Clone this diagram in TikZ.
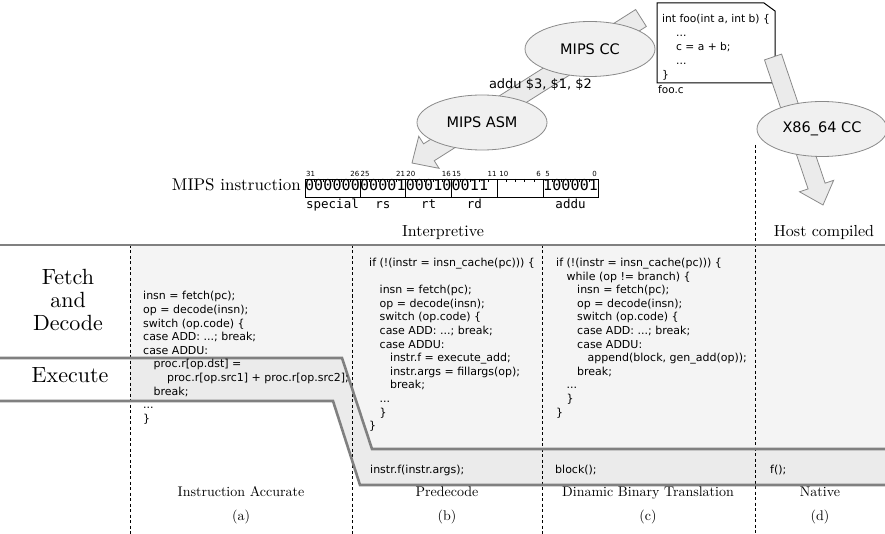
\documentclass[tikz,border=0pt]{standalone}
\usepackage{fontspec}
\setmainfont{lmroman10-regular.otf}
\newfontfamily\codefont{DejaVu Sans}
\newfontfamily\bitfont{DejaVu Sans Mono}
\usetikzlibrary{calc,shapes.geometric}

\definecolor{bandgray}{HTML}{808080}
\definecolor{areafill}{HTML}{F4F4F4}
\definecolor{execfill}{HTML}{EBEBEB}
\definecolor{shapefill}{HTML}{F0F0F0}
\definecolor{shapeline}{HTML}{8A8A8A}

\newlength\codeindent
\setlength\codeindent{10.5pt}
\newcommand\ind[1]{\hspace*{#1\codeindent}}

% fat block arrow: #1 start, #2 tip, #3 shaft half width, #4 head half width
\newcommand\blockarrow[4]{%
  \coordinate (ba-b) at ($(#2)!20pt!(#1)$);
  \filldraw[fatarrow]
    ($(#1)!#3!90:(#2)$) -- ($(ba-b)!#3!90:(#2)$) -- ($(ba-b)!#4!90:(#2)$) --
    (#2) --
    ($(ba-b)!#4!-90:(#2)$) -- ($(ba-b)!#3!-90:(#2)$) -- ($(#1)!#3!-90:(#2)$) -- cycle;
}

\tikzset{
  code/.style={font=\codefont\fontsize{11}{13.6}\selectfont, align=left, anchor=north west, inner sep=0pt},
  codeline/.style={font=\codefont\fontsize{11}{13.6}\selectfont, anchor=mid west, inner sep=0pt},
  rowlabel/.style={font=\fontsize{22}{23.3}\selectfont, align=center, inner sep=0pt},
  grouplabel/.style={font=\fontsize{16}{18}\selectfont, anchor=mid, inner sep=0pt},
  caption/.style={font=\fontsize{14}{16}\selectfont, anchor=mid, inner sep=0pt},
  separator/.style={draw=black, line width=0.6pt, dash pattern=on 3pt off 2.5pt},
  bandline/.style={draw=bandgray, line width=2.6pt},
  tool/.style={ellipse, draw=shapeline, fill=shapefill, line width=0.8pt,
    minimum width=130pt, minimum height=55pt, inner sep=0pt,
    font=\codefont\fontsize{14.5}{17}\selectfont},
  fatarrow/.style={fill=execfill, draw=shapeline, line width=0.8pt},
  bitdigit/.style={font=\bitfont\fontsize{15}{17}\selectfont, anchor=mid, inner sep=0pt},
  bitnum/.style={font=\codefont\fontsize{7}{8}\selectfont, inner sep=0pt},
  fieldname/.style={font=\bitfont\fontsize{12.5}{15}\selectfont, anchor=mid, inner sep=0pt},
  bitframe/.style={draw=black, line width=0.8pt},
  srcfile/.style={draw=black, fill=white, line width=1pt},
}

\begin{document}
\begin{tikzpicture}[x=1pt,y=-1pt]
\useasboundingbox (0,0) rectangle (885,534);

% ---- shaded areas: fetch/decode and execute
\fill[areafill] (130,245) -- (890,245) -- (890,449) -- (372,449) -- (342,358) -- (130,358) -- cycle;
\fill[execfill] (130,358) -- (342,358) -- (372,449) -- (890,449) -- (890,485) -- (360,485) -- (333,401) -- (130,401) -- cycle;

% ---- column separators
\draw[separator] (130,245) -- (130,534);
\draw[separator] (352,245) -- (352,534);
\draw[separator] (542,245) -- (542,534);
\draw[separator] (755,145) -- (755,534);

% ---- band borders
\draw[bandline] (-5,245) -- (890,245);
\draw[bandline] (-5,358) -- (342,358) -- (372,449) -- (890,449);
\draw[bandline] (-5,401) -- (333,401) -- (360,485) -- (890,485);

% ---- row and group labels
\node[rowlabel] (fetchlbl) at (68,300) {Fetch\\and\\Decode};
\node[rowlabel, anchor=mid] (execlbl) at (70,380) {Execute};
\node[grouplabel] (interp) at (443,234) {Interpretive};
\node[grouplabel] (hostc) at (824,234) {Host compiled};

% ---- code: instruction accurate
\node[code] (codea) at (143,291.3) {%
insn = fetch(pc);\\
op = decode(insn);\\
switch (op.code) \{\\
case ADD: ...; break;\\
case ADDU:\\
\ind{1}proc.r[op.dst] =\\
\hspace*{24pt}proc.r[op.src1] + proc.r[op.src2];\\
\ind{1}break;\\
...\\
\}};

% ---- code: predecode
\node[code] (codeb) at (369,257.9) {%
if (!(instr = insn\_cache(pc))) \{\\
\mbox{}\\
\ind{1}insn = fetch(pc);\\
\ind{1}op = decode(insn);\\
\ind{1}switch (op.code) \{\\
\ind{1}case ADD: ...; break;\\
\ind{1}case ADDU:\\
\ind{2}instr.f = execute\_add;\\
\ind{2}instr.args = fillargs(op);\\
\ind{2}break;\\
\ind{1}...\\
\ind{1}\}\\
\}};

% ---- code: dynamic binary translation
\node[code] (codec) at (556,257.9) {%
if (!(instr = insn\_cache(pc))) \{\\
\ind{1}while (op != branch) \{\\
\ind{2}insn = fetch(pc);\\
\ind{2}op = decode(insn);\\
\ind{2}switch (op.code) \{\\
\ind{2}case ADD: ...; break;\\
\ind{2}case ADDU:\\
\ind{3}append(block, gen\_add(op));\\
\ind{2}break;\\
\ind{1}...\\
\ind{1}\}\\
\}};

% ---- execute row
\node[codeline] (execb) at (370,471) {instr.f(instr.args);};
\node[codeline] (execc) at (555,471) {block();};
\node[codeline] (execd) at (770,471) {f();};

% ---- captions
\node[caption] (capa) at (241,494) {Instruction Accurate};
\node[caption] (capb) at (447,494) {Predecode};
\node[caption] (capc) at (648,494) {Dinamic Binary Translation};
\node[caption] (capd) at (820,494) {Native};
\node[caption] (suba) at (241,518) {(a)};
\node[caption] (subb) at (447,518) {(b)};
\node[caption] (subc) at (648,518) {(c)};
\node[caption] (subd) at (820,518) {(d)};

% ---- MIPS instruction word
\def\bitw{9.156}
\node[font=\fontsize{17}{19}\selectfont, anchor=mid east, inner sep=0pt] (mipslbl) at (301,188) {MIPS instruction};
\draw[bitframe] (305,179) rectangle (598,197);
\foreach \k in {6,11,16,21,26}
  \draw[bitframe] (305+\k*\bitw,179) -- (305+\k*\bitw,197);
\foreach \k in {1,...,31}
  \draw[black, line width=0.6pt] (305+\k*\bitw,179) -- ++(0,3.5);
\foreach \d [count=\k from 0] in {0,0,0,0,0,0,0,0,0,0,1,0,0,0,1,0,0,0,1,1}
  \node[bitdigit] (bit\k) at (305+\k*\bitw+0.5*\bitw,188.5) {\d};
\foreach \d [count=\k from 26] in {1,0,0,0,0,1}
  \node[bitdigit] (bit\k) at (305+\k*\bitw+0.5*\bitw,188.5) {\d};
% bit positions
\node[bitnum, anchor=base west] (n31) at (306,177) {31};
\node[bitnum, anchor=base east] (n26) at (305+6*\bitw-0.5,177) {26};
\node[bitnum, anchor=base west] (n25) at (305+6*\bitw+0.5,177) {25};
\node[bitnum, anchor=base east] (n21) at (305+11*\bitw-0.5,177) {21};
\node[bitnum, anchor=base west] (n20) at (305+11*\bitw+0.5,177) {20};
\node[bitnum, anchor=base east] (n16) at (305+16*\bitw-0.5,177) {16};
\node[bitnum, anchor=base west] (n15) at (305+16*\bitw+0.5,177) {15};
\node[bitnum, anchor=base east] (n11) at (305+21*\bitw-0.5,177) {11};
\node[bitnum, anchor=base west] (n10) at (305+21*\bitw+2,177) {10};
\node[bitnum, anchor=base east] (n6) at (305+26*\bitw-2,177) {6};
\node[bitnum, anchor=base west] (n5) at (305+26*\bitw+2,177) {5};
\node[bitnum, anchor=base east] (n0) at (597,177) {0};
% field names
\node[fieldname] (fspecial) at (305+3*\bitw,206) {special};
\node[fieldname] (frs) at (305+8.5*\bitw,206) {rs};
\node[fieldname] (frt) at (305+13.5*\bitw,206) {rt};
\node[fieldname] (frd) at (305+18.5*\bitw,206) {rd};
\node[fieldname] (faddu) at (305+29*\bitw,206) {addu};

% ---- compilation flow
\coordinate (mipsflow-s) at (641,18);
\coordinate (mipsflow-t) at (412,163);
\blockarrow{mipsflow-s}{mipsflow-t}{10pt}{19pt}

% source file with folded corner
\draw[srcfile] (657,3) -- (764,3) -- (775,11) -- (775,83) -- (657,83) -- cycle;
\node[font=\codefont\fontsize{10.7}{14.2}\selectfont, align=left, anchor=north west, inner sep=0pt] (srccode) at (662,13.8) {%
int foo(int a, int b) \{\\
\hspace*{14pt}...\\
\hspace*{14pt}c = a + b;\\
\hspace*{14pt}...\\
\}};
\node[font=\codefont\fontsize{10.5}{12}\selectfont, anchor=mid west, inner sep=0pt] (srcname) at (658,91.5) {foo.c};

\coordinate (hostflow-s) at (773,57);
\coordinate (hostflow-t) at (823,205);
\blockarrow{hostflow-s}{hostflow-t}{9pt}{18pt}

\node[tool] (mipscc) at (590,49) {MIPS CC};
\node[tool] (mipsasm) at (482,122.5) {MIPS ASM};
\node[tool] (x86cc) at (822,129) {X86\_64 CC};
\node[font=\codefont\fontsize{13}{15}\selectfont, anchor=mid, inner sep=0pt] (asmline) at (540.5,86) {addu \$3, \$1, \$2};

\end{tikzpicture}
\end{document}
